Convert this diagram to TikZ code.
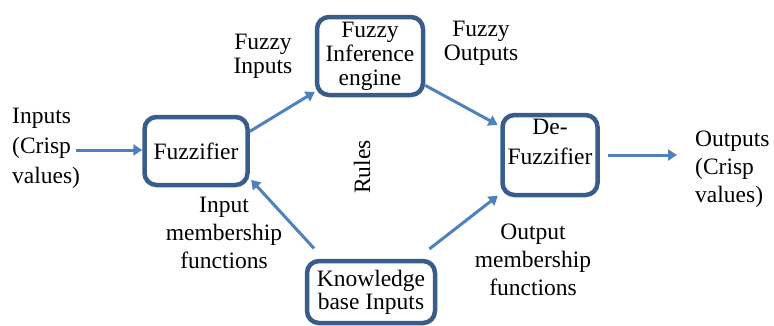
\documentclass[tikz,border=0pt]{standalone}
\usepackage{fontspec}
\setmainfont{Liberation Serif}
\usetikzlibrary{arrows.meta}

\definecolor{boxblue}{RGB}{56,93,138}
\definecolor{arrowblue}{RGB}{79,129,189}

\begin{document}
\begin{tikzpicture}[x=1pt,y=-1pt,
  block/.style={draw=boxblue,line width=4.5pt,rounded corners=12pt,align=center,
    inner sep=2pt,font=\fontsize{23.5}{24}\selectfont},
  flow/.style={-{Triangle[width=11pt,length=9pt]},arrowblue,line width=3pt},
  txt/.style={align=center,inner sep=0pt,font=\fontsize{23.5}{28}\selectfont},
  twoline/.style={txt,font=\fontsize{23.5}{24}\selectfont}]

\useasboundingbox (0,0) rectangle (774,325);

%draw the four blocks
\node[block,minimum width=103pt,minimum height=68pt] (fuzz) at (196,151) {Fuzzifier};
\node[block,minimum width=106pt,minimum height=78pt] (fie) at (370,56) {Fuzzy\\Inference\\engine};
\node[block,minimum width=95pt,minimum height=80pt,
  label={[txt,font=\fontsize{23.5}{30}\selectfont,anchor=north,yshift=-6pt]north:{De-\\Fuzzifier}}]
  (defuzz) at (550,155) {};
\node[block,minimum width=128pt,minimum height=62pt,font=\fontsize{23.5}{23}\selectfont] (kb) at (371,292) {Knowledge\\base Inputs};

%label the signals
\node[txt,align=left,anchor=west,font=\fontsize{23.5}{30}\selectfont] (in) at (12,148) {Inputs\\(Crisp\\values)};
\node[txt,align=left,anchor=west] (out) at (695,169) {Outputs\\(Crisp\\values)};
\node[twoline] (fzin) at (263,56) {Fuzzy\\Inputs};
\node[twoline] (fzout) at (481,43) {Fuzzy\\Outputs};
\node[txt] (inmf) at (224,233) {Input\\membership\\functions};
\node[txt] (outmf) at (533,260) {Output\\membership\\functions};
\node[txt,rotate=90] (rules) at (362,167) {Rules};

%draw the arrows
\coordinate (instart) at (76,150);
\draw[flow] (instart) -- (instart -| fuzz.west);
\draw[flow] (fuzz.20) -- (fie.213);
\draw[flow,shorten >=3pt] (fie.332) -- (defuzz.150);
\draw[flow,shorten <=8pt,shorten >=18pt] (defuzz.east) -- (defuzz.east -| out.west);
\draw[flow,shorten <=14pt,shorten >=2pt] (kb.145) -- (fuzz.333);
\draw[flow,shorten <=16pt,shorten >=3pt] (kb.36) -- (defuzz.218);

\end{tikzpicture}
\end{document}
